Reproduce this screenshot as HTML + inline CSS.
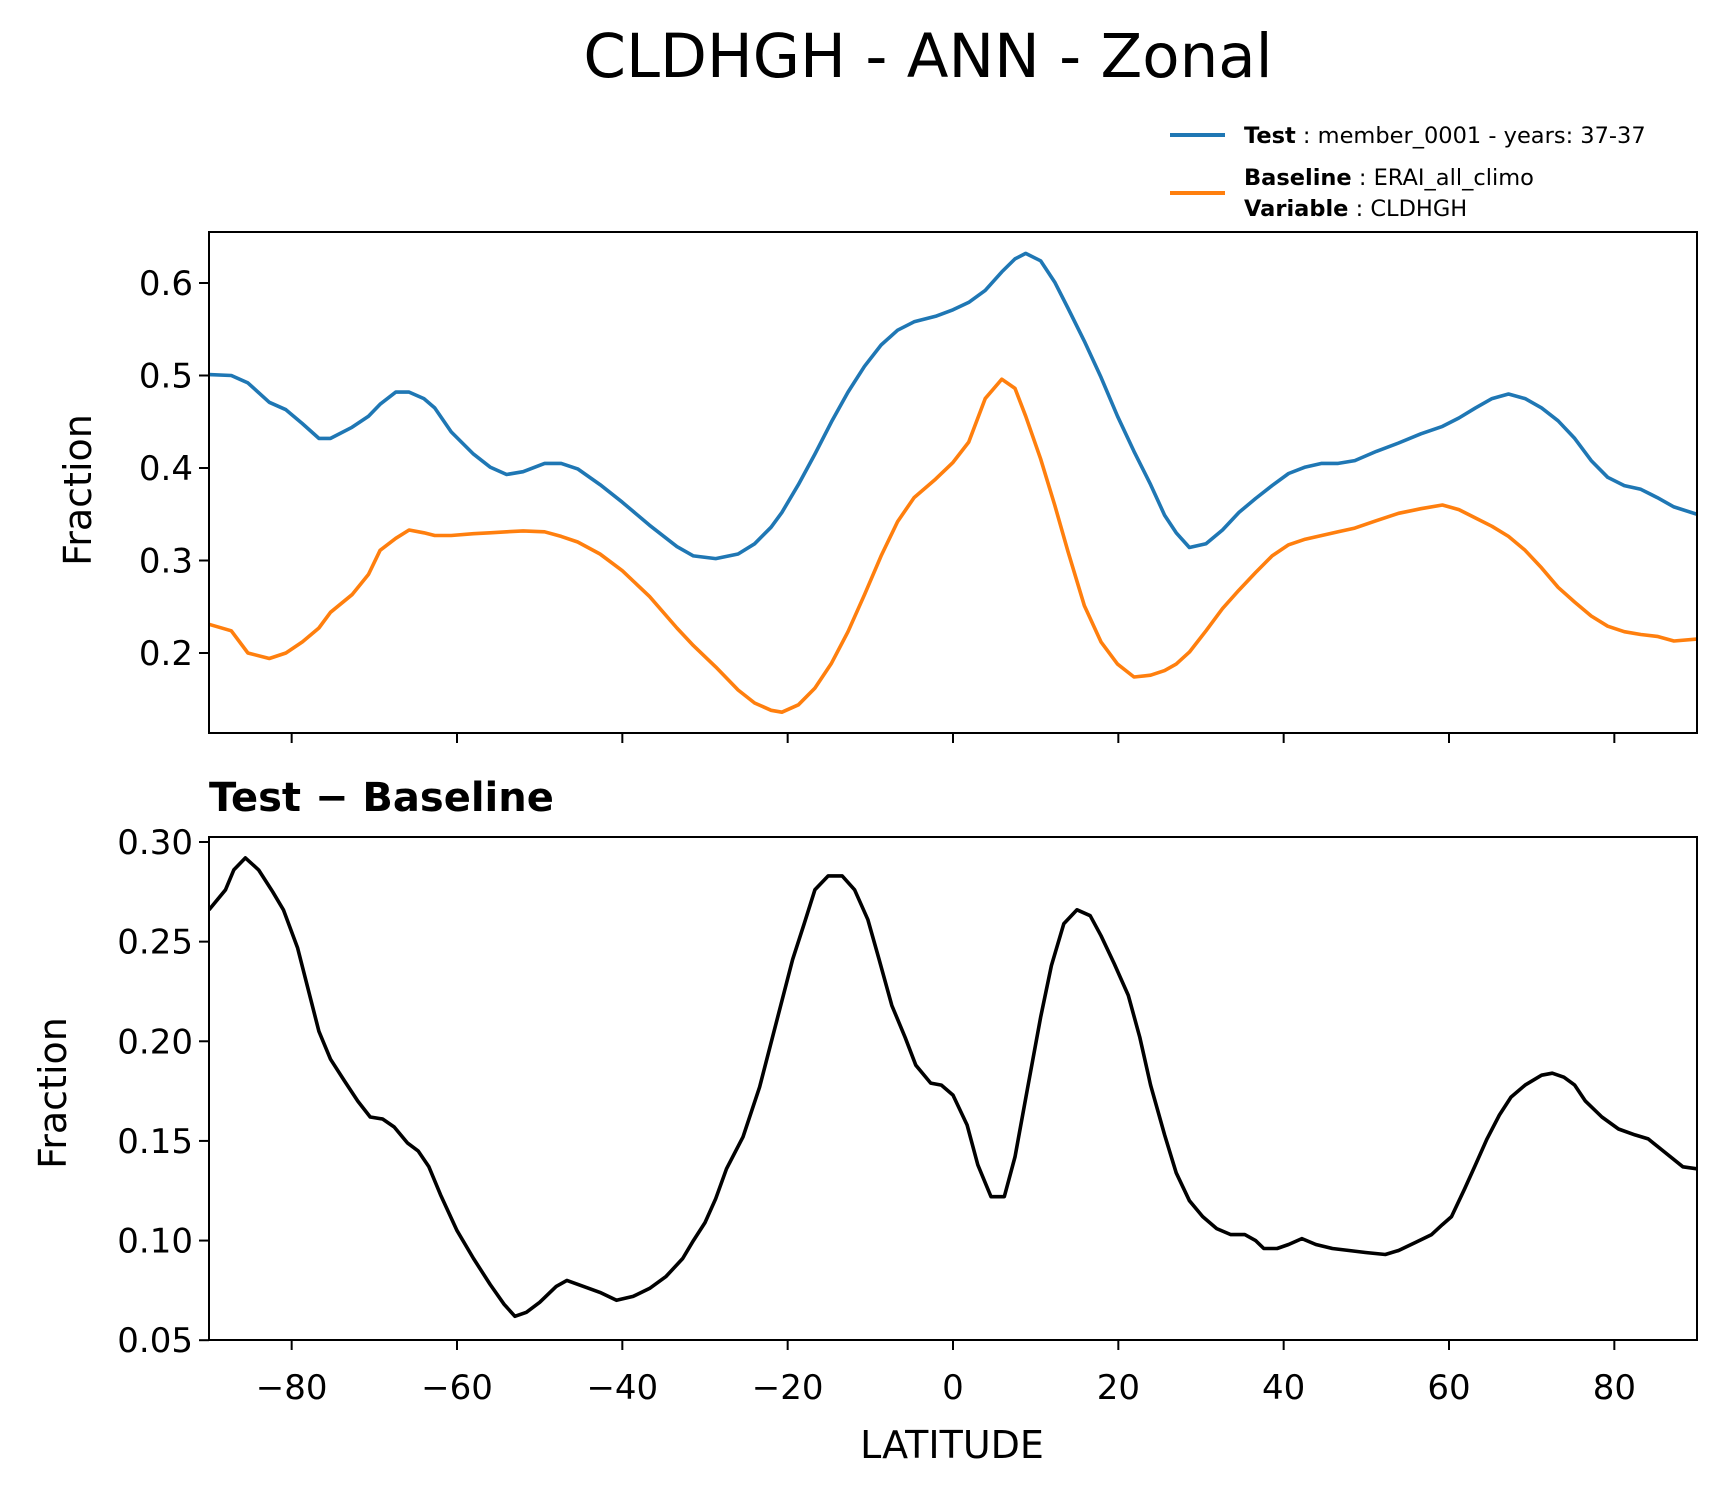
<!DOCTYPE html>
<html><head><meta charset="utf-8"><style>
html,body{margin:0;padding:0;background:#fff}
svg{display:block;font-family:"DejaVu Sans","Liberation Sans",sans-serif}
</style></head><body>
<svg id="chart" width="1726" height="1496" viewBox="0 0 1726 1496" xmlns="http://www.w3.org/2000/svg">
<rect width="1726" height="1496" fill="#fff"/>
<text x="928" y="77" font-size="61" text-anchor="middle">CLDHGH - ANN - Zonal</text>
<g>
<line x1="1170" y1="135" x2="1225" y2="135" stroke="#1f77b4" stroke-width="4"/>
<text x="1244" y="143" font-size="22.5"><tspan font-weight="bold">Test</tspan> : member_0001 - years: 37-37</text>
<line x1="1170" y1="193" x2="1225" y2="193" stroke="#ff7f0e" stroke-width="4"/>
<text x="1244" y="185" font-size="22.5"><tspan font-weight="bold">Baseline</tspan> : ERAI_all_climo</text>
<text x="1244" y="216" font-size="22.5"><tspan font-weight="bold">Variable</tspan> : CLDHGH</text>
</g>
<g id="toppanel"></g>
<g id="botpanel"></g>
<text x="209" y="811" font-size="40" font-weight="bold">Test − Baseline</text>
<text transform="translate(91,490) rotate(-90)" font-size="38" text-anchor="middle">Fraction</text>
<text transform="translate(66,1093) rotate(-90)" font-size="38" text-anchor="middle">Fraction</text>
<text x="952" y="1458" font-size="38" text-anchor="middle">LATITUDE</text>
</svg>
<script>
const latTB = [-90,-87.3,-85.3,-82.7,-80.7,-78.7,-76.7,-75.3,-72.7,-70.7,-69.3,-67.4,-65.8,-64,-62.7,-60.7,-58,-56,-54,-52,-49.4,-47.4,-45.4,-42.7,-40,-36.7,-33.4,-31.4,-28.7,-26,-24,-22,-20.7,-18.7,-16.7,-14.7,-12.7,-10.7,-8.7,-6.7,-4.7,-2.1,0,1.9,3.9,5.9,7.5,8.8,10.6,12.3,13.9,15.9,17.9,19.9,21.9,23.9,25.6,27,28.6,30.6,32.6,34.6,36.6,38.6,40.6,42.6,44.6,46.6,48.6,51.2,53.9,56.6,59.2,61.2,63.2,65.2,67.2,69.2,71.2,73.2,75.2,77.2,79.2,81.2,83.2,85.2,87.2,90];
const testVals = [.501,.500,.492,.471,.463,.448,.432,.432,.444,.456,.469,.482,.482,.475,.465,.439,.415,.401,.393,.396,.405,.405,.399,.382,.363,.338,.315,.305,.302,.307,.318,.336,.352,.382,.415,.450,.482,.510,.533,.549,.558,.564,.571,.579,.592,.612,.626,.632,.624,.601,.573,.537,.498,.456,.418,.382,.349,.330,.314,.318,.333,.352,.367,.381,.394,.401,.405,.405,.408,.418,.427,.437,.445,.454,.465,.475,.480,.475,.465,.451,.432,.408,.390,.381,.377,.368,.358,.350];
const baseVals = [.231,.224,.200,.194,.200,.212,.227,.244,.263,.285,.311,.324,.333,.330,.327,.327,.329,.330,.331,.332,.331,.326,.320,.307,.289,.261,.227,.208,.185,.160,.146,.138,.136,.144,.162,.189,.223,.263,.305,.342,.368,.388,.406,.428,.475,.496,.486,.456,.410,.360,.310,.251,.212,.188,.174,.176,.181,.188,.201,.224,.248,.268,.287,.305,.317,.323,.327,.331,.335,.343,.351,.356,.360,.355,.346,.337,.326,.311,.292,.271,.255,.240,.229,.223,.220,.218,.213,.215];
const latD = [-90,-88,-87,-85.6,-84,-82.3,-81,-79.3,-76.7,-75.3,-73.6,-72,-70.5,-69,-67.6,-66,-64.7,-63.4,-62,-60,-58,-56,-54.3,-53,-51.6,-50,-48,-46.7,-44.7,-42.7,-40.7,-38.7,-36.7,-34.7,-32.7,-31.4,-30,-28.7,-27.4,-25.4,-23.4,-21.4,-19.4,-18,-16.7,-15.1,-13.4,-11.9,-10.3,-9,-7.4,-5.8,-4.5,-2.7,-1.4,0,1.7,3,4.6,6.2,7.5,9,10.6,11.9,13.4,15,16.6,17.9,19.5,21.2,22.6,23.9,25.6,27,28.6,30.2,31.9,33.6,35.3,36.6,37.6,39.2,40.6,42.2,43.9,45.9,47.9,49.9,52.3,53.9,55.9,57.9,59.2,60.3,61.9,63.2,64.6,66.1,67.5,69.2,71.2,72.5,73.9,75.2,76.5,78.5,80.5,82.5,84.1,85.9,88.3,90];
const diffVals = [.266,.276,.286,.292,.286,.275,.266,.247,.205,.191,.180,.170,.162,.161,.157,.149,.145,.137,.123,.105,.091,.078,.068,.062,.064,.069,.077,.080,.077,.074,.070,.072,.076,.082,.091,.100,.109,.121,.136,.152,.177,.209,.241,.259,.276,.283,.283,.276,.261,.242,.218,.202,.188,.179,.178,.173,.158,.138,.122,.122,.142,.176,.212,.238,.259,.266,.263,.253,.239,.223,.202,.178,.153,.134,.120,.112,.106,.103,.103,.100,.096,.096,.098,.101,.098,.096,.095,.094,.093,.095,.099,.103,.108,.112,.126,.138,.151,.163,.172,.178,.183,.184,.182,.178,.170,.162,.156,.153,.151,.145,.137,.136];
const xTicks = [-80,-60,-40,-20,0,20,40,60,80];
const xTickLabels = ["−80","−60","−40","−20","0","20","40","60","80"];
const topYTicks = [0.2,0.3,0.4,0.5,0.6];
const topYLabels = ["0.2","0.3","0.4","0.5","0.6"];
const botYTicks = [0.05,0.10,0.15,0.20,0.25,0.30];
const botYLabels = ["0.05","0.10","0.15","0.20","0.25","0.30"];

const NS="http://www.w3.org/2000/svg";
const X0=209,X1=1697;
const xs = lat => X0+(lat+90)/180*(X1-X0);
const yTop = v => 283+(0.6-v)*925;
const yBot = v => 842+(0.30-v)*1992.8;
function mk(tag, parent, attrs){const e=document.createElementNS(NS,tag);for(const k in attrs)e.setAttribute(k,attrs[k]);parent.appendChild(e);return e;}
function drawLine(parent, lats, vals, yf, color, name){
  let d=""; lats.forEach((l,i)=>{d+=(i?"L":"M")+xs(l).toFixed(1)+","+yf(vals[i]).toFixed(1);});
  const p=mk("path",parent,{d:d,fill:"none",stroke:color,"stroke-width":"3.6","stroke-linejoin":"round","clip-path":"url(#"+parent.id+"-clip)"});
  
  
}
function panel(g, ptop, pbottom, yf, ticks, labels, showX){
  const defs=mk("defs",g,{});
  const cp=mk("clipPath",defs,{id:g.id+"-clip"});
  mk("rect",cp,{x:X0,y:ptop,width:X1-X0,height:pbottom-ptop});
  ticks.forEach((t,i)=>{
    const y=yf(t);
    const tk=mk("line",g,{x1:X0-10,x2:X0,y1:y,y2:y,stroke:"#000","stroke-width":"2"});
    
    
    const tx=mk("text",g,{x:X0-16,y:y+12,"font-size":"34","text-anchor":"end"});
    
    
    tx.textContent=labels[i];
  });
  xTicks.forEach((t,i)=>{
    const x=xs(t);
    const tk=mk("line",g,{x1:x,x2:x,y1:pbottom,y2:pbottom+10,stroke:"#000","stroke-width":"2"});
    
    
    if(showX){
      const tx=mk("text",g,{x:x,y:pbottom+59,"font-size":"34","text-anchor":"middle"});
      
      
      tx.textContent=xTickLabels[i];
    }
  });
}
const gTop=document.getElementById("toppanel"), gBot=document.getElementById("botpanel");
panel(gTop,232,733,yTop,topYTicks,topYLabels,false);
drawLine(gTop,latTB,testVals,yTop,"#1f77b4","test-line");
drawLine(gTop,latTB,baseVals,yTop,"#ff7f0e","baseline-line");
const f1=mk("rect",gTop,{x:X0,y:232,width:X1-X0,height:501,fill:"none",stroke:"#000","stroke-width":"2"});


panel(gBot,837,1340,yBot,botYTicks,botYLabels,true);
drawLine(gBot,latD,diffVals,yBot,"#000","difference-line");
const f2=mk("rect",gBot,{x:X0,y:837,width:X1-X0,height:503,fill:"none",stroke:"#000","stroke-width":"2"});


</script>
</body></html>
